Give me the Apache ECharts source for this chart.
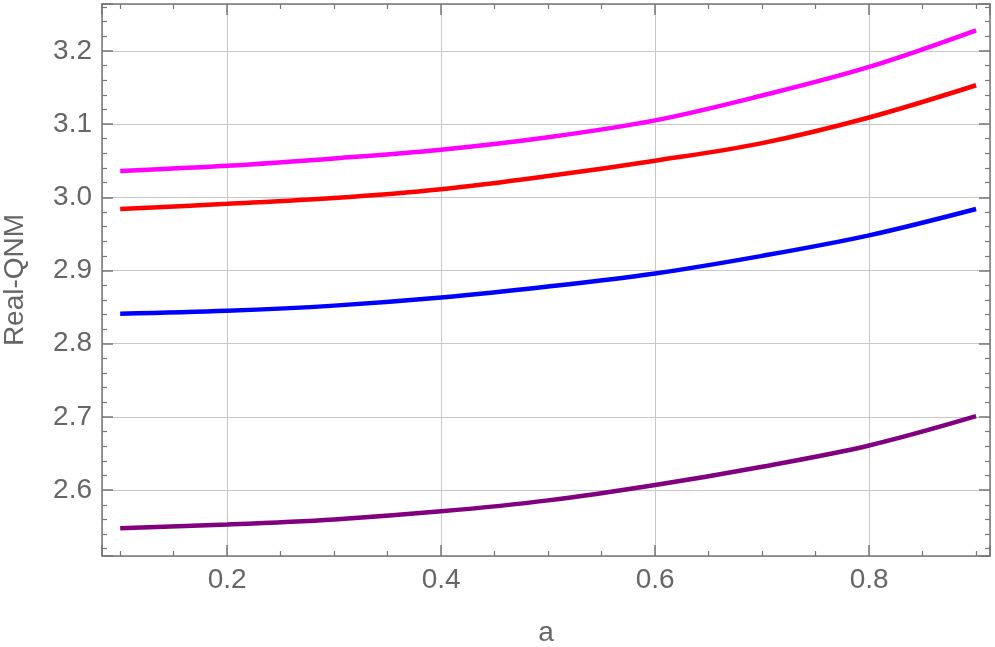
<!DOCTYPE html>
<html>
<head>
<meta charset="utf-8">
<script src="https://cdn.jsdelivr.net/npm/echarts@6/dist/echarts.min.js"></script>
<style>
html,body{margin:0;padding:0;background:#fff;}
#chart{width:995px;height:647px;}
</style>
</head>
<body>
<div id="chart"></div>
<script>
// spin parameter a
var aValues = [0.1, 0.2, 0.3, 0.4, 0.5, 0.6, 0.7, 0.8, 0.9];
// real part of the QNM, one array per curve
var magentaQNM = [3.036, 3.043, 3.053, 3.065, 3.082, 3.105, 3.139, 3.178, 3.228];
var redQNM = [2.984, 2.991, 2.999, 3.011, 3.029, 3.050, 3.074, 3.109, 3.153];
var blueQNM = [2.841, 2.845, 2.852, 2.863, 2.878, 2.896, 2.920, 2.948, 2.984];
var purpleQNM = [2.548, 2.553, 2.560, 2.571, 2.586, 2.607, 2.632, 2.661, 2.701];

var xRange = [0.083, 0.913];
var yRange = [2.51, 3.264];

function pairs(ys){
  return aValues.map(function(x, i){ return [x, ys[i]]; });
}

var frameColor = '#777';
var labelStyle = {color:'#666', fontSize:28, fontFamily:'Liberation Sans, Arial, sans-serif'};

function frameAxis(pos, range, step, minorSplit, primary){
  var ax = {
    type:'value',
    position:pos,
    min:range[0],
    max:range[1],
    minInterval:step,
    maxInterval:step,
    axisLine:{show:true, onZero:false, lineStyle:{color:frameColor, width:1.5}},
    axisTick:{show:true, inside:true, length:11, lineStyle:{color:frameColor, width:1.5}},
    minorTick:{show:true, splitNumber:minorSplit, length:5, lineStyle:{color:frameColor, width:1.2}},
    axisLabel:{show:primary, showMinLabel:false, showMaxLabel:false, margin:10,
      fontSize:labelStyle.fontSize, color:labelStyle.color, fontFamily:labelStyle.fontFamily,
      formatter:function(v){ return v.toFixed(1); }},
    splitLine:{show:primary, lineStyle:{color:'#c8c8c8', width:1}}
  };
  return ax;
}

var xMain = frameAxis('bottom', xRange, 0.2, 4, true);
xMain.name = 'a';
xMain.nameLocation = 'middle';
xMain.nameGap = 63;
xMain.nameTextStyle = labelStyle;
var xTop = frameAxis('top', xRange, 0.2, 4, false);

var yMain = frameAxis('left', yRange, 0.1, 5, true);
yMain.name = 'Real-QNM';
yMain.nameLocation = 'middle';
yMain.nameGap = 73;
yMain.nameTextStyle = labelStyle;
var yRight = frameAxis('right', yRange, 0.1, 5, false);

function curve(name, data, color){
  return {
    name:name,
    type:'line',
    data:pairs(data),
    smooth:0.35,
    showSymbol:false,
    symbol:'none',
    lineStyle:{color:color, width:4.5},
    itemStyle:{color:color}
  };
}

var chart = echarts.init(document.getElementById('chart'));
chart.setOption({
  animation:false,
  backgroundColor:'#fff',
  grid:{left:102, right:5, top:4, bottom:91, containLabel:false, outerBoundsMode:'none'},
  xAxis:[xMain, xTop],
  yAxis:[yMain, yRight],
  series:[
    curve('magenta', magentaQNM, '#ff00ff'),
    curve('red', redQNM, '#ff0000'),
    curve('blue', blueQNM, '#0000ff'),
    curve('purple', purpleQNM, '#800080')
  ]
});
</script>
</body>
</html>
